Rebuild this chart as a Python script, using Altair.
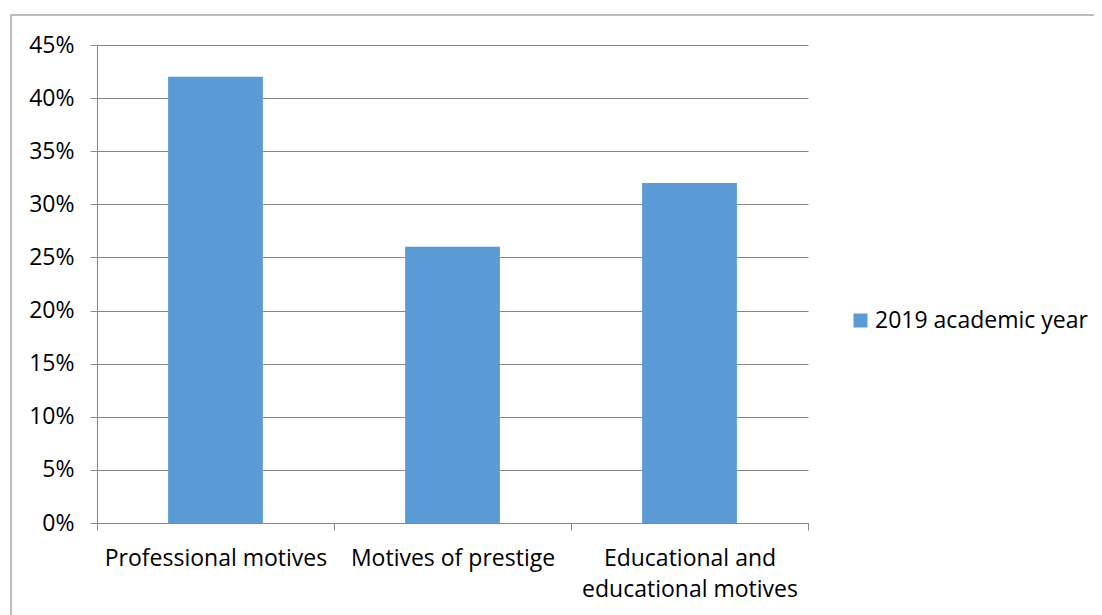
import altair as alt
import pandas as pd

categories = ["Professional motives", "Motives of prestige", "Educational and educational motives"]
values = [0.42, 0.26, 0.32]
series = ["2019 academic year"]

df = pd.DataFrame({"category": categories, "value": values, "series": series * len(categories)})

FONT = "Open Sans"
FS = 23
GRID = "#878787"

bars = alt.Chart(df).mark_bar(width={"band": 0.4}, color="#5B9BD5").encode(
    x=alt.X(
        "category:N",
        sort=categories,
        scale=alt.Scale(paddingInner=0, paddingOuter=0),
        axis=alt.Axis(
            title=None,
            labelAngle=0,
            tickBand="extent",
            tickSize=7,
            tickColor=GRID,
            domainColor=GRID,
            labelPadding=17,
            labelFontSize=FS,
            labelFont=FONT,
            labelColor="#000000",
            labelLineHeight=31,
            labelBaseline="top",
            labelLimit=0,
            labelExpr="datum.value == 'Educational and educational motives' ? ['Educational and', 'educational motives'] : datum.value",
        ),
    ),
    y=alt.Y(
        "value:Q",
        scale=alt.Scale(domain=[0, 0.45], nice=False),
        axis=alt.Axis(
            title=None,
            format=".0%",
            values=[0, 0.05, 0.1, 0.15, 0.2, 0.25, 0.3, 0.35, 0.4, 0.45],
            tickSize=7,
            tickColor=GRID,
            domainColor=GRID,
            gridColor=GRID,
            labelPadding=16,
            labelFontSize=FS,
            labelFont=FONT,
            labelColor="#000000",
        ),
    ),
    color=alt.Color(
        "series:N",
        scale=alt.Scale(range=["#5B9BD5"]),
        legend=alt.Legend(
            title=None,
            orient="none",
            legendX=752,
            legendY=264,
            symbolType="square",
            symbolSize=196,
            symbolStrokeWidth=0,
            labelFontSize=FS,
            labelFont=FONT,
            labelColor="#000000",
            labelOffset=3,
            labelLimit=0,
        ),
    ),
)

border = alt.Chart(pd.DataFrame({"a": [0]})).mark_rect(
    fill=None, stroke="#A6A6A6", strokeWidth=1.5
).encode(
    x=alt.value(-86), x2=alt.value(1030), y=alt.value(-30), y2=alt.value(600)
)

chart = alt.layer(border, bars).properties(
    width=711,
    height=478,
    autosize=alt.AutoSizeParams(type="none"),
    padding={"left": 89, "top": 37, "right": 286, "bottom": 130},
).configure_view(stroke=None).configure_axis(gridWidth=1)

chart.save("out.html", embed_options={"renderer": "svg", "actions": False})
